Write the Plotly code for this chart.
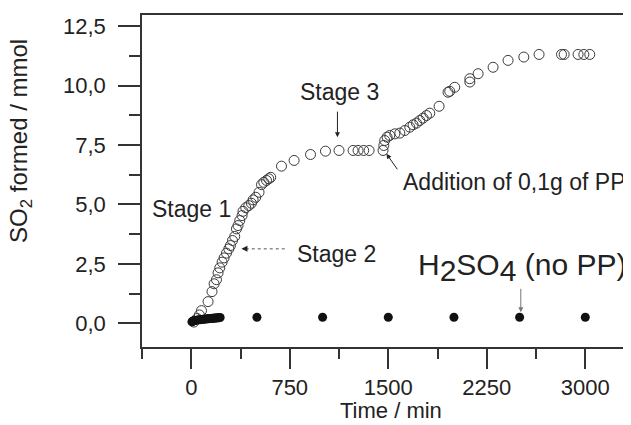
import plotly.graph_objects as go

# ---- data ----
pp_time = [20, 45, 62, 78, 128, 158, 174, 192, 204, 217, 235, 250, 268, 286, 298, 314, 331,
           344, 356, 369, 387, 394, 415, 438, 458, 471, 491, 516, 535, 552, 573, 590, 605,
           687, 783, 908, 1022, 1125, 1232, 1270, 1313, 1354, 1460, 1466, 1473, 1491, 1511,
           1550, 1588, 1626, 1664, 1689, 1715, 1740, 1765, 1791, 1816, 1887, 1955, 1968, 2006,
           2121, 2121, 2184, 2298, 2412, 2532, 2648, 2819, 2839, 2945, 2989, 3034]
pp_so2 = [0.05, 0.20, 0.35, 0.53, 0.91, 1.33, 1.66, 1.83, 2.12, 2.33, 2.57, 2.75, 2.95, 3.13, 3.27, 3.48, 3.65,
          3.97, 4.11, 4.32, 4.53, 4.71, 4.86, 4.95, 5.05, 5.19, 5.30, 5.51, 5.83, 5.93, 6.01, 6.08, 6.14,
          6.61, 6.85, 7.10, 7.24, 7.27, 7.27, 7.27, 7.27, 7.27, 7.27, 7.48, 7.69, 7.83, 7.90,
          7.97, 8.00, 8.11, 8.25, 8.35, 8.42, 8.53, 8.63, 8.74, 8.84, 9.13, 9.72, 9.76, 9.93,
          10.15, 10.29, 10.50, 10.77, 11.06, 11.20, 11.31, 11.31, 11.31, 11.31, 11.31, 11.31]

acid_time = [5, 10, 15, 20, 25, 30, 40, 50, 60, 70, 80, 90, 100, 110, 120, 130, 140, 150, 160,
             170, 180, 190, 200, 210, 220, 500, 1000, 1500, 2000, 2500, 3000]
acid_so2 = [0.06, 0.08, 0.09, 0.10, 0.11, 0.12, 0.13, 0.14, 0.15, 0.15, 0.16, 0.17, 0.17, 0.18,
            0.19, 0.19, 0.20, 0.20, 0.21, 0.21, 0.22, 0.22, 0.23, 0.23, 0.24, 0.25, 0.25, 0.25,
            0.25, 0.25, 0.25]

x_tickvals = [0, 750, 1500, 2250, 3000]
x_ticktext = ["0", "750", "1500", "2250", "3000"]
y_tickvals = [0, 2.5, 5, 7.5, 10, 12.5]
y_ticktext = ["0,0", "2,5", "5,0", "7,5", "10,0", "12,5"]

FONT = "Liberation Sans, Arial, sans-serif"
AX = "#333333"
TXT = "#222222"

fig = go.Figure()
fig.add_trace(go.Scatter(x=pp_time, y=pp_so2, mode="markers",
                         marker=dict(symbol="circle-open", size=10, color="#3a3a3a",
                                     line=dict(width=1, color="#3a3a3a")),
                         showlegend=False))
fig.add_trace(go.Scatter(x=acid_time, y=acid_so2, mode="markers",
                         marker=dict(symbol="circle", size=9, color="#111111"),
                         showlegend=False))

# page body has an 8px margin: shrink figure and shift margins so the plot lands in place
fig.update_layout(
    width=623, height=417,
    margin=dict(l=134, r=0, t=7, b=78),
    paper_bgcolor="white", plot_bgcolor="white",
    font=dict(family=FONT, size=22, color=TXT),
    showlegend=False,
)
fig.update_xaxes(
    range=[-375, 3348], showgrid=False, zeroline=False,
    showline=True, linecolor=AX, linewidth=1.5, mirror=True,
    ticks="outside", ticklen=20, tickwidth=1.5, tickcolor=AX,
    tickvals=x_tickvals, ticktext=x_ticktext,
    tickfont=dict(family=FONT, size=22, color=TXT),
    minor=dict(ticks="outside", ticklen=10, tickwidth=1.5, tickcolor=AX, dtick=375, tick0=0),
)
fig.update_yaxes(
    range=[-1.0, 12.97], showgrid=False, zeroline=False,
    showline=True, linecolor=AX, linewidth=1.5,
    ticks="outside", ticklen=22, tickwidth=1.5, tickcolor=AX,
    tickvals=y_tickvals, ticktext=y_ticktext,
    tickfont=dict(family=FONT, size=22, color=TXT),
    ticklabelstandoff=8,
    minor=dict(ticks="outside", ticklen=11, tickwidth=1.5, tickcolor=AX, dtick=1.25, tick0=0),
)

anns = []
# axis titles
anns.append(dict(text="Time / min", xref="paper", yref="paper", x=0.509, y=-0.19,
                 xanchor="center", yanchor="middle", showarrow=False,
                 font=dict(family=FONT, size=22, color=TXT)))
anns.append(dict(text="SO<sub>2</sub> formed / mmol", xref="paper", yref="paper",
                 x=-0.25, y=0.62, xanchor="center", yanchor="middle", textangle=-90,
                 showarrow=False, font=dict(family=FONT, size=24, color=TXT)))
# labels
lab = dict(family=FONT, size=23, color=TXT)
anns.append(dict(text="Stage 1", x=-316, y=4.80, xanchor="left", yanchor="middle",
                 showarrow=False, font=lab))
anns.append(dict(text="Stage 2", x=788, y=2.90, xanchor="left", yanchor="middle",
                 showarrow=False, font=lab))
anns.append(dict(text="Stage 3", x=1131, y=9.72, xanchor="center", yanchor="middle",
                 showarrow=False, font=lab))
anns.append(dict(text="Addition of 0,1g of PP", x=1595, y=5.95, xanchor="left",
                 yanchor="middle", showarrow=False, font=lab))
anns.append(dict(text='H<sub><span style="font-size:30px">2</span></sub>SO<sub><span style="font-size:30px">4</span></sub> (no PP)',
                 x=1712, y=2.35, xanchor="left",
                 yanchor="middle", showarrow=False, font=dict(family=FONT, size=30, color=TXT)))
# arrows
arr = dict(text="", showarrow=True, arrowhead=2, arrowsize=1, arrowwidth=1, arrowcolor=TXT,
           axref="pixel", ayref="pixel")
anns.append(dict(arr, x=1113, y=7.83, ax=0, ay=-27))
anns.append(dict(arr, x=1486, y=7.13, ax=12, ay=17))
anns.append(dict(arr, x=2509, y=0.46, ax=0, ay=-25, arrowcolor="#777777"))
anns.append(dict(arr, x=382, y=3.13, ax=5, ay=0, arrowsize=1.2))
anns.append(dict(arr, x=19, y=0.79, ax=0, ay=-3, arrowsize=1.2))
fig.update_layout(annotations=anns)

# dotted leader line for Stage 2
fig.add_shape(type="line", x0=415, x1=735, y0=3.13, y1=3.13, xref="x", yref="y",
              line=dict(color="#555555", width=1, dash="dot"))

fig.write_html("out.html")
